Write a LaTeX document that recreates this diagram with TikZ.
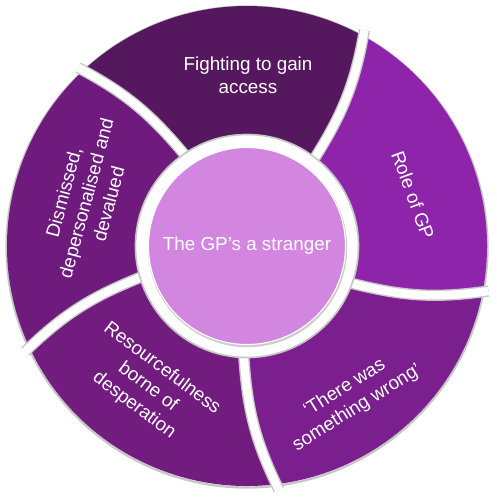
\documentclass[tikz,border=0pt]{standalone}
\usepackage{fontspec}
\setmainfont{Liberation Sans}
\definecolor{accessPurple}{HTML}{55175E}
\definecolor{rolePurple}{HTML}{8E24AA}
\definecolor{wrongPurple}{HTML}{7B1F8F}
\definecolor{resourcePurple}{HTML}{721C80}
\definecolor{dismissPurple}{HTML}{6F1B7E}
\definecolor{strangerPink}{HTML}{D386E0}
\tikzset{
 themetext/.style={text=white, align=center, inner sep=0pt,
  font=\fontsize{13.4}{16.5}\selectfont},
 pics/ringpart/.style args={#1/#2}{
  % one piece of the ring, from the cut at #1-72 round to the cut at #1
  code={
   \pgfmathsetmacro\cutA{#1}
   \pgfmathsetmacro\cutB{#1-72}
   \fill[#2] (\cutB:104) to[out=\cutB+5.5, in=\cutB+207.5] (\cutB+9:240)
     arc[start angle=\cutB+9, end angle=\cutA+9, radius=240]
     to[out=\cutA+207.5, in=\cutA+5.5] (\cutA:104)
     arc[start angle=\cutA, end angle=\cutB, radius=104] -- cycle;
  }
 }
}

\begin{document}
\begin{tikzpicture}[x=0.025cm, y=0.025cm]
 \useasboundingbox (-247,-250) rectangle (250,246);
 \draw[black!22, line width=1.6pt] (0,-1) circle (240.5);

 \path (0,0) pic {ringpart=124/accessPurple};
 \path (0,0) pic {ringpart=52/rolePurple};
 \path (0,0) pic {ringpart=-20/wrongPurple};
 \path (0,0) pic {ringpart=-92/resourcePurple};
 \path (0,0) pic {ringpart=-164/dismissPurple};

 % curved cuts between the pieces
 \foreach \a in {124, 52, -20, -92, -164} {
  \draw[black!22, line width=8pt] (\a:104) to[out=\a+5.5, in=\a+207.5] (\a+9:240) -- ++(\a+27.5:6);
  \draw[white, line width=6pt] (\a:104) to[out=\a+5.5, in=\a+207.5] (\a+9:240) -- ++(\a+27.5:6);
 }

 \draw[black!22, line width=1.2pt, fill=white] (0,0) circle (111.5);
 \fill[black!20] (0.6,-1.6) circle (99.6);
 \node[circle, fill=strangerPink, draw=white, line width=0.8pt, minimum size=4.925cm,
  themetext] (stranger) at (0,0) {The GP’s a stranger};

 \node[themetext] (access) at (1,171) {Fighting to gain\\access};
 \node[themetext, rotate=-70] (role) at (166,51) {Role of GP};
 \node[themetext, rotate=32] (wrong) at (104,-152) {‘There was\\something wrong’};
 \node[themetext, rotate=-37] (resource) at (-99,-141) {Resourcefulness\\borne of\\desperation};
 \node[themetext, rotate=75] (dismiss) at (-161,48) {Dismissed,\\depersonalised and\\devalued};
\end{tikzpicture}
\end{document}
